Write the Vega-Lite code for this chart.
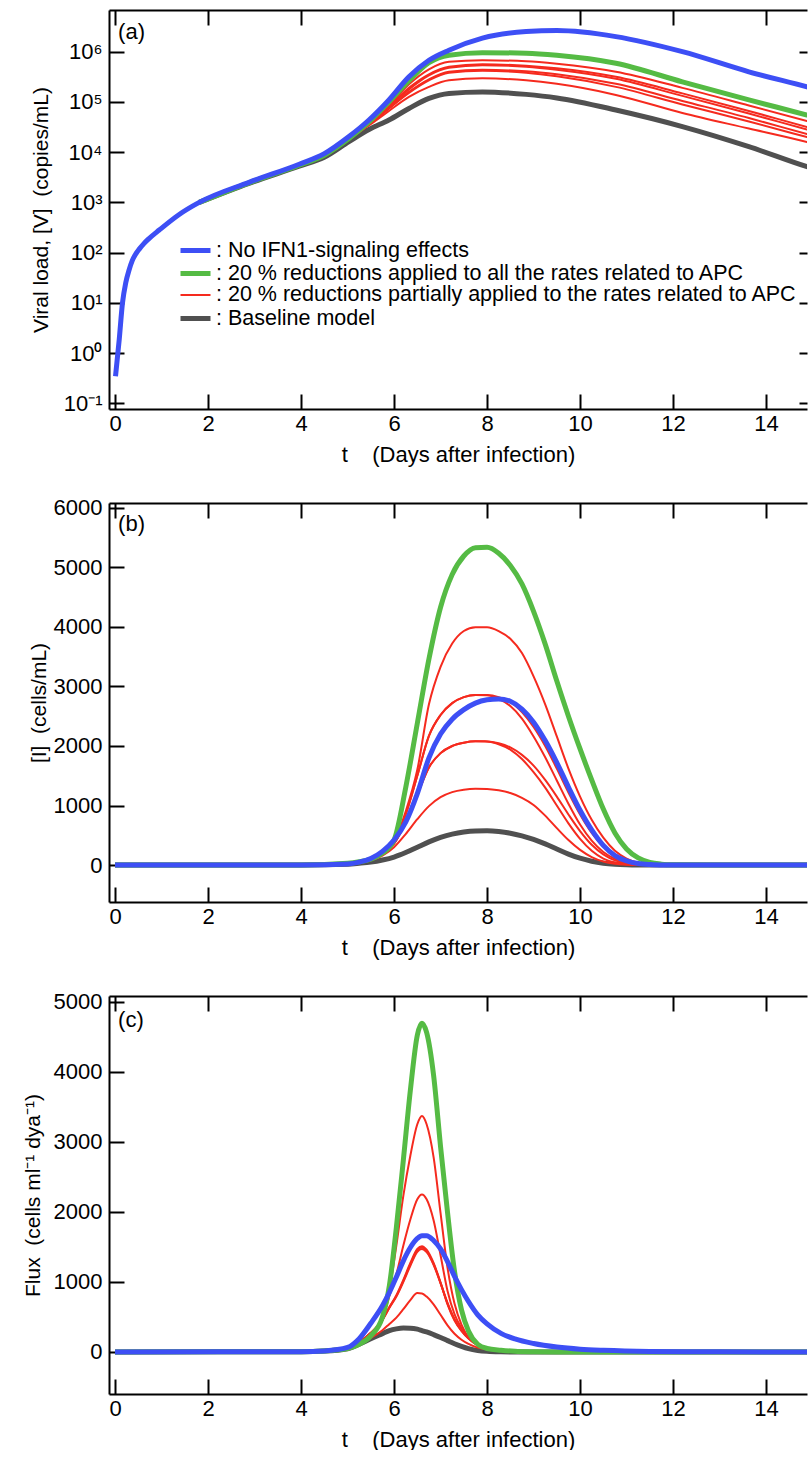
{
  "$schema": "https://vega.github.io/schema/vega-lite/v6.json",
  "background": "white",
  "padding": {"left": 22, "top": 9, "right": 0, "bottom": 0},
  "bounds": "flush",
  "spacing": 94,
  "resolve": {"legend": {"color": "independent", "strokeWidth": "independent"}},
  "config": {
    "font": "Liberation Sans",
    "view": {"stroke": null},
    "axis": {"grid": false, "domainColor": "#000", "domainWidth": 2, "tickColor": "#000", "tickWidth": 2, "labelColor": "#000", "labelFont": "Liberation Sans", "labelFontSize": 22, "titleFont": "Liberation Sans", "titleFontSize": 22, "titleFontWeight": "normal", "titleColor": "#000"},
    "axisLeft": {"titleFontSize": 21},
    "legend": {"orient": "none", "legendX": 74, "legendY": 228, "labelFont": "Liberation Sans", "labelFontSize": 21.5, "labelColor": "#000", "labelLimit": 1000, "symbolSize": 400, "symbolType": "M-1.5,0H1.5", "labelOffset": 8, "rowPadding": -1, "padding": 0}
  },
  "datasets": {
    "names": [
      {"s": "B", "grp": ": No IFN1-signaling effects"},
      {"s": "G", "grp": ": 20 % reductions applied to all the rates related to APC"},
      {"s": "R1", "grp": ": 20 % reductions partially applied to the rates related to APC"},
      {"s": "R2", "grp": ": 20 % reductions partially applied to the rates related to APC"},
      {"s": "R3", "grp": ": 20 % reductions partially applied to the rates related to APC"},
      {"s": "R4", "grp": ": 20 % reductions partially applied to the rates related to APC"},
      {"s": "R5", "grp": ": 20 % reductions partially applied to the rates related to APC"},
      {"s": "R6", "grp": ": 20 % reductions partially applied to the rates related to APC"},
      {"s": "K", "grp": ": Baseline model"}
    ],
    "A": [
      {"t": 0.01, "B": 0.3467},
      {"t": 0.09, "B": 1.862},
      {"t": 0.16, "B": 10},
      {"t": 0.23, "B": 25.12},
      {"t": 0.3, "B": 44.67},
      {"t": 0.37, "B": 69.18},
      {"t": 0.45, "B": 95.5},
      {"t": 0.52, "B": 117.5},
      {"t": 0.62, "B": 151.4},
      {"t": 0.73, "B": 190.5},
      {"t": 0.95, "B": 281.8},
      {"t": 1.38, "B": 575.4},
      {"t": 1.81, "B": 1000, "K": 1000, "G": 1000, "R1": 1000, "R2": 1000, "R3": 1000, "R4": 1000, "R5": 1000, "R6": 1000},
      {"t": 2.88, "B": 2512, "K": 2399, "G": 2455, "R1": 2455, "R2": 2455, "R3": 2455, "R4": 2455, "R5": 2455, "R6": 2455},
      {"t": 3.96, "B": 5754, "K": 5248, "G": 5495, "R1": 5370, "R2": 5370, "R3": 5370, "R4": 5370, "R5": 5370, "R6": 5370},
      {"t": 4.5, "B": 9333, "K": 7943, "G": 8710, "R1": 8318, "R2": 8318, "R3": 8318, "R4": 8318, "R5": 8318, "R6": 8318},
      {"t": 5.03, "B": 20420, "K": 16220, "G": 18620, "R1": 18200, "R2": 18200, "R3": 18200, "R4": 18200, "R5": 18200, "R6": 18200},
      {"t": 5.46, "B": 43650, "K": 28180, "G": 39810, "R1": 37150, "R2": 36310, "R3": 36310, "R4": 35480, "R5": 35480, "R6": 33880},
      {"t": 5.89, "B": 109600, "K": 43650, "G": 100000, "R1": 83180, "R2": 79430, "R3": 79430, "R4": 74130, "R5": 74130, "R6": 66070},
      {"t": 6.32, "B": 316200, "K": 74130, "G": 263000, "R1": 223900, "R2": 190500, "R3": 177800, "R4": 158500, "R5": 151400, "R6": 125900},
      {"t": 6.75, "B": 676100, "K": 117500, "G": 602600, "R1": 446700, "R2": 354800, "R3": 338800, "R4": 281800, "R5": 269200, "R6": 199500},
      {"t": 7.18, "B": 1072000, "K": 147900, "G": 851100, "R1": 631000, "R2": 501200, "R3": 478600, "R4": 398100, "R5": 380200, "R6": 269200},
      {"t": 7.9, "B": 1862000, "K": 158500, "G": 955000, "R1": 676100, "R2": 562300, "R3": 537000, "R4": 436500, "R5": 416900, "R6": 295100},
      {"t": 8.84, "B": 2512000, "K": 141300, "G": 933300, "R1": 645700, "R2": 524800, "R3": 501200, "R4": 407400, "R5": 380200, "R6": 269200},
      {"t": 9.5, "B": 2630000, "K": 120200, "G": 851100, "R1": 575400, "R2": 467700, "R3": 436500, "R4": 354800, "R5": 323600, "R6": 229100},
      {"t": 10.77, "B": 1995000, "K": 69180, "G": 588800, "R1": 398100, "R2": 316200, "R3": 288400, "R4": 229100, "R5": 199500, "R6": 138000},
      {"t": 12.2, "B": 1000000, "K": 32360, "G": 251200, "R1": 190500, "R2": 147900, "R3": 131800, "R4": 104700, "R5": 89130, "R6": 60260},
      {"t": 13.63, "B": 398100, "K": 12880, "G": 109600, "R1": 85110, "R2": 66070, "R3": 58880, "R4": 47860, "R5": 40740, "R6": 29510},
      {"t": 14.88, "B": 199500, "K": 5129, "G": 54950, "R1": 41690, "R2": 31620, "R3": 28180, "R4": 22910, "R5": 19950, "R6": 15850},
      {"t": 15.2, "B": 166000, "K": 4169, "G": 45710, "R1": 34670, "R2": 26300, "R3": 23440, "R4": 19050, "R5": 16600, "R6": 13180}
    ],
    "Bd": [
      {"t": 0, "B": 0, "K": 0, "G": 0, "R1": 0, "R2": 0, "R3": 0, "R4": 0, "R5": 0, "R6": 0},
      {"t": 4, "B": 3, "K": 2, "G": 3, "R1": 3, "R2": 3, "R3": 3, "R4": 3, "R5": 3, "R6": 3},
      {"t": 5.0, "B": 20, "K": 15, "G": 30, "R1": 30, "R2": 30, "R3": 30, "R4": 28, "R5": 28, "R6": 25},
      {"t": 5.25, "B": 50, "K": 30, "G": 55, "R1": 55, "R2": 55, "R3": 55, "R4": 52, "R5": 52, "R6": 45},
      {"t": 5.5, "B": 110, "K": 50, "G": 100, "R1": 90, "R2": 90, "R3": 90, "R4": 85, "R5": 85, "R6": 80},
      {"t": 5.75, "B": 230, "K": 85, "G": 200, "R1": 190, "R2": 190, "R3": 190, "R4": 180, "R5": 180, "R6": 160},
      {"t": 6.0, "B": 420, "K": 135, "G": 420, "R1": 400, "R2": 380, "R3": 380, "R4": 360, "R5": 360, "R6": 300},
      {"t": 6.25, "B": 720, "K": 210, "G": 1300, "R1": 900, "R2": 850, "R3": 850, "R4": 720, "R5": 720, "R6": 520},
      {"t": 6.5, "B": 1200, "K": 300, "G": 2380, "R1": 1600, "R2": 1500, "R3": 1500, "R4": 1180, "R5": 1180, "R6": 770},
      {"t": 6.75, "B": 1800, "K": 390, "G": 3460, "R1": 2700, "R2": 2170, "R3": 2170, "R4": 1640, "R5": 1640, "R6": 990},
      {"t": 7.0, "B": 2200, "K": 465, "G": 4330, "R1": 3330, "R2": 2520, "R3": 2520, "R4": 1880, "R5": 1880, "R6": 1140},
      {"t": 7.25, "B": 2450, "K": 520, "G": 4880, "R1": 3720, "R2": 2720, "R3": 2720, "R4": 2000, "R5": 2000, "R6": 1225},
      {"t": 7.5, "B": 2610, "K": 555, "G": 5190, "R1": 3930, "R2": 2820, "R3": 2820, "R4": 2055, "R5": 2055, "R6": 1265},
      {"t": 7.75, "B": 2720, "K": 572, "G": 5330, "R1": 3995, "R2": 2858, "R3": 2858, "R4": 2078, "R5": 2078, "R6": 1280},
      {"t": 8.0, "B": 2775, "K": 575, "G": 5335, "R1": 3995, "R2": 2850, "R3": 2855, "R4": 2075, "R5": 2077, "R6": 1278},
      {"t": 8.25, "B": 2790, "K": 563, "G": 5235, "R1": 3930, "R2": 2790, "R3": 2820, "R4": 2030, "R5": 2045, "R6": 1255},
      {"t": 8.5, "B": 2750, "K": 535, "G": 5030, "R1": 3800, "R2": 2670, "R3": 2740, "R4": 1940, "R5": 1975, "R6": 1210},
      {"t": 8.75, "B": 2620, "K": 490, "G": 4720, "R1": 3560, "R2": 2460, "R3": 2570, "R4": 1780, "R5": 1850, "R6": 1130},
      {"t": 9.0, "B": 2400, "K": 430, "G": 4260, "R1": 3170, "R2": 2160, "R3": 2320, "R4": 1560, "R5": 1670, "R6": 1010},
      {"t": 9.25, "B": 2090, "K": 355, "G": 3710, "R1": 2700, "R2": 1810, "R3": 2000, "R4": 1300, "R5": 1430, "R6": 830},
      {"t": 9.5, "B": 1720, "K": 270, "G": 3090, "R1": 2160, "R2": 1420, "R3": 1620, "R4": 1000, "R5": 1150, "R6": 620},
      {"t": 9.75, "B": 1310, "K": 185, "G": 2500, "R1": 1620, "R2": 1030, "R3": 1220, "R4": 700, "R5": 850, "R6": 420},
      {"t": 10.0, "B": 920, "K": 115, "G": 1950, "R1": 1150, "R2": 680, "R3": 850, "R4": 440, "R5": 570, "R6": 255},
      {"t": 10.25, "B": 590, "K": 65, "G": 1430, "R1": 760, "R2": 410, "R3": 540, "R4": 240, "R5": 340, "R6": 135},
      {"t": 10.5, "B": 330, "K": 32, "G": 940, "R1": 460, "R2": 220, "R3": 310, "R4": 110, "R5": 180, "R6": 60},
      {"t": 10.75, "B": 160, "K": 14, "G": 540, "R1": 240, "R2": 105, "R3": 155, "R4": 42, "R5": 80, "R6": 22},
      {"t": 11.0, "B": 70, "K": 5, "G": 270, "R1": 110, "R2": 45, "R3": 70, "R4": 14, "R5": 30, "R6": 6},
      {"t": 11.25, "B": 25, "K": 1, "G": 120, "R1": 40, "R2": 15, "R3": 25, "R4": 4, "R5": 10, "R6": 0},
      {"t": 11.5, "B": 8, "K": 0, "G": 45, "R1": 12, "R2": 5, "R3": 8, "R4": 0, "R5": 3, "R6": 0},
      {"t": 11.75, "B": 2, "K": 0, "G": 15, "R1": 3, "R2": 1, "R3": 2, "R4": 0, "R5": 0, "R6": 0},
      {"t": 12.0, "B": 0, "K": 0, "G": 5, "R1": 0, "R2": 0, "R3": 0, "R4": 0, "R5": 0, "R6": 0},
      {"t": 13, "B": 0, "K": 0, "G": 0, "R1": 0, "R2": 0, "R3": 0, "R4": 0, "R5": 0, "R6": 0},
      {"t": 15.2, "B": 0, "K": 0, "G": 0, "R1": 0, "R2": 0, "R3": 0, "R4": 0, "R5": 0, "R6": 0}
    ],
    "C": [
      {"t": 0, "B": 0, "K": 0, "G": 0, "R1": 0, "R2": 0, "R3": 0, "R4": 0, "R5": 0, "R6": 0},
      {"t": 4, "B": 4, "K": 4, "G": 4, "R1": 4, "R2": 4, "R3": 4, "R4": 4, "R5": 4, "R6": 4},
      {"t": 4.5, "B": 15, "K": 12, "G": 15, "R1": 15, "R2": 15, "R3": 15, "R4": 15, "R5": 15, "R6": 15},
      {"t": 5.0, "B": 65, "K": 45, "G": 50, "R1": 55, "R2": 55, "R3": 55, "R4": 55, "R5": 55, "R6": 50},
      {"t": 5.25, "B": 190, "K": 110, "G": 110, "R1": 140, "R2": 140, "R3": 140, "R4": 140, "R5": 140, "R6": 120},
      {"t": 5.5, "B": 410, "K": 190, "G": 230, "R1": 270, "R2": 270, "R3": 270, "R4": 270, "R5": 270, "R6": 200},
      {"t": 5.75, "B": 660, "K": 262, "G": 500, "R1": 470, "R2": 470, "R3": 460, "R4": 460, "R5": 455, "R6": 310},
      {"t": 5.9, "B": 850, "K": 305, "G": 950, "R1": 880, "R2": 800, "R3": 640, "R4": 635, "R5": 630, "R6": 400},
      {"t": 6.05, "B": 1070, "K": 330, "G": 1780, "R1": 1520, "R2": 1110, "R3": 810, "R4": 800, "R5": 790, "R6": 490},
      {"t": 6.2, "B": 1300, "K": 342, "G": 2740, "R1": 2230, "R2": 1520, "R3": 1030, "R4": 1015, "R5": 1000, "R6": 610},
      {"t": 6.35, "B": 1490, "K": 340, "G": 3730, "R1": 2800, "R2": 1890, "R3": 1270, "R4": 1250, "R5": 1230, "R6": 740},
      {"t": 6.5, "B": 1620, "K": 325, "G": 4520, "R1": 3250, "R2": 2180, "R3": 1470, "R4": 1450, "R5": 1430, "R6": 840},
      {"t": 6.6, "B": 1660, "K": 305, "G": 4690, "R1": 3367, "R2": 2248, "R3": 1510, "R4": 1490, "R5": 1470, "R6": 835},
      {"t": 6.7, "B": 1660, "K": 285, "G": 4560, "R1": 3250, "R2": 2180, "R3": 1460, "R4": 1440, "R5": 1425, "R6": 790},
      {"t": 6.85, "B": 1590, "K": 248, "G": 3950, "R1": 2780, "R2": 1880, "R3": 1270, "R4": 1255, "R5": 1245, "R6": 680},
      {"t": 7.0, "B": 1470, "K": 207, "G": 2930, "R1": 1980, "R2": 1380, "R3": 990, "R4": 985, "R5": 980, "R6": 530},
      {"t": 7.15, "B": 1290, "K": 162, "G": 1990, "R1": 1200, "R2": 870, "R3": 680, "R4": 690, "R5": 700, "R6": 380},
      {"t": 7.3, "B": 1080, "K": 118, "G": 1150, "R1": 690, "R2": 540, "R3": 450, "R4": 460, "R5": 470, "R6": 260},
      {"t": 7.45, "B": 890, "K": 80, "G": 600, "R1": 390, "R2": 340, "R3": 300, "R4": 305, "R5": 310, "R6": 175},
      {"t": 7.6, "B": 720, "K": 48, "G": 300, "R1": 210, "R2": 205, "R3": 190, "R4": 195, "R5": 200, "R6": 115},
      {"t": 7.8, "B": 530, "K": 22, "G": 110, "R1": 100, "R2": 100, "R3": 95, "R4": 98, "R5": 100, "R6": 62},
      {"t": 8.0, "B": 400, "K": 9, "G": 50, "R1": 55, "R2": 55, "R3": 52, "R4": 53, "R5": 55, "R6": 38},
      {"t": 8.3, "B": 265, "K": 2, "G": 25, "R1": 22, "R2": 22, "R3": 22, "R4": 22, "R5": 23, "R6": 15},
      {"t": 8.6, "B": 185, "K": 0, "G": 10, "R1": 10, "R2": 10, "R3": 10, "R4": 10, "R5": 10, "R6": 5},
      {"t": 9.0, "B": 120, "K": 0, "G": 3, "R1": 3, "R2": 3, "R3": 3, "R4": 3, "R5": 3, "R6": 0},
      {"t": 9.5, "B": 70, "K": 0, "G": 0, "R1": 0, "R2": 0, "R3": 0, "R4": 0, "R5": 0, "R6": 0},
      {"t": 10.0, "B": 40, "K": 0, "G": 0, "R1": 0, "R2": 0, "R3": 0, "R4": 0, "R5": 0, "R6": 0},
      {"t": 10.5, "B": 24, "K": 0, "G": 0, "R1": 0, "R2": 0, "R3": 0, "R4": 0, "R5": 0, "R6": 0},
      {"t": 11.5, "B": 8, "K": 0, "G": 0, "R1": 0, "R2": 0, "R3": 0, "R4": 0, "R5": 0, "R6": 0},
      {"t": 13, "B": 2, "K": 0, "G": 0, "R1": 0, "R2": 0, "R3": 0, "R4": 0, "R5": 0, "R6": 0},
      {"t": 15.2, "B": 0, "K": 0, "G": 0, "R1": 0, "R2": 0, "R3": 0, "R4": 0, "R5": 0, "R6": 0}
    ]
  },
  "vconcat": [
    {
      "width": 698, "height": 399,
      "data": {"name": "A"},
      "transform": [
        {"fold": ["K", "G", "R1", "R2", "R3", "R4", "R5", "R6", "B"], "as": ["s", "v"]},
        {"lookup": "s", "from": {"data": {"name": "names"}, "key": "s", "fields": ["grp"]}}
      ],
      "resolve": {"axis": {"x": "independent", "y": "independent"}},
      "layer": [
        {
          "transform": [{"filter": {"field": "s", "equal": "K"}}],
          "mark": {"type": "line", "interpolate": "monotone", "clip": true},
          "encoding": {
            "x": {"field": "t", "type": "quantitative", "scale": {"domain": [-0.13, 14.88]}, "axis": {"orient": "bottom", "values": [0, 2, 4, 6, 8, 10, 12, 14], "tickSize": -15, "labelPadding": 19, "title": "t\u00a0\u00a0\u00a0\u00a0(Days after infection)", "titlePadding": 10}},
            "y": {"field": "v", "type": "quantitative", "scale": {"type": "log", "domain": [0.0771, 6761000]}, "axis": {"orient": "left", "values": [0.1, 1, 10, 100, 1000, 10000, 100000, 1000000], "tickSize": -15, "labelPadding": 22, "title": "Viral load, [V]\u00a0\u00a0(copies/mL)", "titlePadding": 12, "labelExpr": "datum.value < 0.5 ? '10⁻¹' : datum.value < 5 ? '10⁰' : datum.value < 50 ? '10¹' : datum.value < 500 ? '10²' : datum.value < 5000 ? '10³' : datum.value < 50000 ? '10⁴' : datum.value < 500000 ? '10⁵' : '10⁶'"}},
            "color": {"field": "grp", "type": "nominal", "scale": {"domain": [": No IFN1-signaling effects", ": 20 % reductions applied to all the rates related to APC", ": 20 % reductions partially applied to the rates related to APC", ": Baseline model"], "range": ["#3d4ff5", "#55bb44", "#f52a1e", "#505050"]}, "legend": {"title": null}},
            "strokeWidth": {"field": "grp", "type": "nominal", "scale": {"type": "ordinal", "domain": [": No IFN1-signaling effects", ": 20 % reductions applied to all the rates related to APC", ": 20 % reductions partially applied to the rates related to APC", ": Baseline model"], "range": [5, 5, 2, 5]}, "legend": {"title": null}},
            "detail": {"field": "s"}
          }
        },
        {
          "transform": [{"filter": {"field": "s", "oneOf": ["R1", "R2", "R3", "R4", "R5", "R6"]}}],
          "mark": {"type": "line", "interpolate": "monotone", "clip": true},
          "encoding": {
            "x": {"field": "t", "type": "quantitative", "scale": {"domain": [-0.13, 14.88]}, "axis": null},
            "y": {"field": "v", "type": "quantitative", "scale": {"type": "log", "domain": [0.0771, 6761000]}, "axis": null},
            "color": {"field": "grp", "type": "nominal", "scale": {"domain": [": No IFN1-signaling effects", ": 20 % reductions applied to all the rates related to APC", ": 20 % reductions partially applied to the rates related to APC", ": Baseline model"], "range": ["#3d4ff5", "#55bb44", "#f52a1e", "#505050"]}, "legend": {"title": null}},
            "strokeWidth": {"field": "grp", "type": "nominal", "scale": {"type": "ordinal", "domain": [": No IFN1-signaling effects", ": 20 % reductions applied to all the rates related to APC", ": 20 % reductions partially applied to the rates related to APC", ": Baseline model"], "range": [5, 5, 2, 5]}, "legend": {"title": null}},
            "detail": {"field": "s"}
          }
        },
        {
          "transform": [{"filter": {"field": "s", "equal": "G"}}],
          "mark": {"type": "line", "interpolate": "monotone", "clip": true},
          "encoding": {
            "x": {"field": "t", "type": "quantitative", "scale": {"domain": [-0.13, 14.88]}, "axis": null},
            "y": {"field": "v", "type": "quantitative", "scale": {"type": "log", "domain": [0.0771, 6761000]}, "axis": null},
            "color": {"field": "grp", "type": "nominal", "scale": {"domain": [": No IFN1-signaling effects", ": 20 % reductions applied to all the rates related to APC", ": 20 % reductions partially applied to the rates related to APC", ": Baseline model"], "range": ["#3d4ff5", "#55bb44", "#f52a1e", "#505050"]}, "legend": {"title": null}},
            "strokeWidth": {"field": "grp", "type": "nominal", "scale": {"type": "ordinal", "domain": [": No IFN1-signaling effects", ": 20 % reductions applied to all the rates related to APC", ": 20 % reductions partially applied to the rates related to APC", ": Baseline model"], "range": [5, 5, 2, 5]}, "legend": {"title": null}},
            "detail": {"field": "s"}
          }
        },
        {
          "transform": [{"filter": {"field": "s", "equal": "B"}}],
          "mark": {"type": "line", "interpolate": "monotone", "clip": true},
          "encoding": {
            "x": {"field": "t", "type": "quantitative", "scale": {"domain": [-0.13, 14.88]}, "axis": null},
            "y": {"field": "v", "type": "quantitative", "scale": {"type": "log", "domain": [0.0771, 6761000]}, "axis": null},
            "color": {"field": "grp", "type": "nominal", "scale": {"domain": [": No IFN1-signaling effects", ": 20 % reductions applied to all the rates related to APC", ": 20 % reductions partially applied to the rates related to APC", ": Baseline model"], "range": ["#3d4ff5", "#55bb44", "#f52a1e", "#505050"]}, "legend": {"title": null}},
            "strokeWidth": {"field": "grp", "type": "nominal", "scale": {"type": "ordinal", "domain": [": No IFN1-signaling effects", ": 20 % reductions applied to all the rates related to APC", ": 20 % reductions partially applied to the rates related to APC", ": Baseline model"], "range": [5, 5, 2, 5]}, "legend": {"title": null}},
            "detail": {"field": "s"}
          }
        },
        {
          "data": {"values": [{"lab": "(a)"}]},
          "mark": {"type": "text", "align": "left", "baseline": "middle", "fontSize": 22, "font": "Liberation Sans", "color": "#000"},
          "encoding": {
            "text": {"field": "lab"},
            "x": {"datum": 0.065, "type": "quantitative", "scale": {"domain": [-0.13, 14.88]}, "axis": {"orient": "top", "values": [0, 2, 4, 6, 8, 10, 12, 14], "labels": false, "tickSize": -15, "title": null}},
            "y": {"datum": 2500000, "type": "quantitative", "scale": {"type": "log", "domain": [0.0771, 6761000]}, "axis": {"orient": "right", "values": [0.1, 1, 10, 100, 1000, 10000, 100000, 1000000], "labels": false, "domain": false, "tickSize": -8, "title": null}}
          }
        }
      ]
    },
    {
      "width": 698, "height": 399,
      "data": {"name": "Bd"},
      "transform": [
        {"fold": ["K", "G", "R1", "R2", "R3", "R4", "R5", "R6", "B"], "as": ["s", "v"]},
        {"lookup": "s", "from": {"data": {"name": "names"}, "key": "s", "fields": ["grp"]}}
      ],
      "resolve": {"axis": {"x": "independent", "y": "independent"}},
      "layer": [
        {
          "transform": [{"filter": {"field": "s", "equal": "K"}}],
          "mark": {"type": "line", "interpolate": "monotone", "clip": true},
          "encoding": {
            "x": {"field": "t", "type": "quantitative", "scale": {"domain": [-0.13, 14.88]}, "axis": {"orient": "bottom", "values": [0, 2, 4, 6, 8, 10, 12, 14], "tickSize": -15, "labelPadding": 19, "title": "t\u00a0\u00a0\u00a0\u00a0(Days after infection)", "titlePadding": 10}},
            "y": {"field": "v", "type": "quantitative", "scale": {"domain": [-620, 6080], "nice": false, "zero": false}, "axis": {"orient": "left", "values": [0, 1000, 2000, 3000, 4000, 5000, 6000], "tickSize": -15, "labelPadding": 22, "title": "[I]\u00a0\u00a0(cells/mL)", "titlePadding": 4, "format": "d"}},
            "color": {"field": "grp", "type": "nominal", "scale": {"domain": [": No IFN1-signaling effects", ": 20 % reductions applied to all the rates related to APC", ": 20 % reductions partially applied to the rates related to APC", ": Baseline model"], "range": ["#3d4ff5", "#55bb44", "#f52a1e", "#505050"]}, "legend": null},
            "strokeWidth": {"field": "grp", "type": "nominal", "scale": {"type": "ordinal", "domain": [": No IFN1-signaling effects", ": 20 % reductions applied to all the rates related to APC", ": 20 % reductions partially applied to the rates related to APC", ": Baseline model"], "range": [5, 5, 2, 5]}, "legend": null},
            "detail": {"field": "s"}
          }
        },
        {
          "transform": [{"filter": {"field": "s", "oneOf": ["R1", "R2", "R3", "R4", "R5", "R6"]}}],
          "mark": {"type": "line", "interpolate": "monotone", "clip": true},
          "encoding": {
            "x": {"field": "t", "type": "quantitative", "scale": {"domain": [-0.13, 14.88]}, "axis": null},
            "y": {"field": "v", "type": "quantitative", "scale": {"domain": [-620, 6080], "nice": false, "zero": false}, "axis": null},
            "color": {"field": "grp", "type": "nominal", "scale": {"domain": [": No IFN1-signaling effects", ": 20 % reductions applied to all the rates related to APC", ": 20 % reductions partially applied to the rates related to APC", ": Baseline model"], "range": ["#3d4ff5", "#55bb44", "#f52a1e", "#505050"]}, "legend": null},
            "strokeWidth": {"field": "grp", "type": "nominal", "scale": {"type": "ordinal", "domain": [": No IFN1-signaling effects", ": 20 % reductions applied to all the rates related to APC", ": 20 % reductions partially applied to the rates related to APC", ": Baseline model"], "range": [5, 5, 2, 5]}, "legend": null},
            "detail": {"field": "s"}
          }
        },
        {
          "transform": [{"filter": {"field": "s", "equal": "G"}}],
          "mark": {"type": "line", "interpolate": "monotone", "clip": true},
          "encoding": {
            "x": {"field": "t", "type": "quantitative", "scale": {"domain": [-0.13, 14.88]}, "axis": null},
            "y": {"field": "v", "type": "quantitative", "scale": {"domain": [-620, 6080], "nice": false, "zero": false}, "axis": null},
            "color": {"field": "grp", "type": "nominal", "scale": {"domain": [": No IFN1-signaling effects", ": 20 % reductions applied to all the rates related to APC", ": 20 % reductions partially applied to the rates related to APC", ": Baseline model"], "range": ["#3d4ff5", "#55bb44", "#f52a1e", "#505050"]}, "legend": null},
            "strokeWidth": {"field": "grp", "type": "nominal", "scale": {"type": "ordinal", "domain": [": No IFN1-signaling effects", ": 20 % reductions applied to all the rates related to APC", ": 20 % reductions partially applied to the rates related to APC", ": Baseline model"], "range": [5, 5, 2, 5]}, "legend": null},
            "detail": {"field": "s"}
          }
        },
        {
          "transform": [{"filter": {"field": "s", "equal": "B"}}],
          "mark": {"type": "line", "interpolate": "monotone", "clip": true},
          "encoding": {
            "x": {"field": "t", "type": "quantitative", "scale": {"domain": [-0.13, 14.88]}, "axis": null},
            "y": {"field": "v", "type": "quantitative", "scale": {"domain": [-620, 6080], "nice": false, "zero": false}, "axis": null},
            "color": {"field": "grp", "type": "nominal", "scale": {"domain": [": No IFN1-signaling effects", ": 20 % reductions applied to all the rates related to APC", ": 20 % reductions partially applied to the rates related to APC", ": Baseline model"], "range": ["#3d4ff5", "#55bb44", "#f52a1e", "#505050"]}, "legend": null},
            "strokeWidth": {"field": "grp", "type": "nominal", "scale": {"type": "ordinal", "domain": [": No IFN1-signaling effects", ": 20 % reductions applied to all the rates related to APC", ": 20 % reductions partially applied to the rates related to APC", ": Baseline model"], "range": [5, 5, 2, 5]}, "legend": null},
            "detail": {"field": "s"}
          }
        },
        {
          "data": {"values": [{"lab": "(b)"}]},
          "mark": {"type": "text", "align": "left", "baseline": "middle", "fontSize": 22, "font": "Liberation Sans", "color": "#000"},
          "encoding": {
            "text": {"field": "lab"},
            "x": {"datum": 0.065, "type": "quantitative", "scale": {"domain": [-0.13, 14.88]}, "axis": {"orient": "top", "values": [0, 2, 4, 6, 8, 10, 12, 14], "labels": false, "tickSize": -15, "title": null}},
            "y": {"datum": 5726, "type": "quantitative", "scale": {"domain": [-620, 6080], "nice": false, "zero": false}, "axis": null}
          }
        }
      ]
    },
    {
      "width": 698, "height": 398,
      "data": {"name": "C"},
      "transform": [
        {"fold": ["K", "G", "R1", "R2", "R3", "R4", "R5", "R6", "B"], "as": ["s", "v"]},
        {"lookup": "s", "from": {"data": {"name": "names"}, "key": "s", "fields": ["grp"]}}
      ],
      "resolve": {"axis": {"x": "independent", "y": "independent"}},
      "layer": [
        {
          "transform": [{"filter": {"field": "s", "equal": "K"}}],
          "mark": {"type": "line", "interpolate": "monotone", "clip": true},
          "encoding": {
            "x": {"field": "t", "type": "quantitative", "scale": {"domain": [-0.13, 14.88]}, "axis": {"orient": "bottom", "values": [0, 2, 4, 6, 8, 10, 12, 14], "tickSize": -15, "labelPadding": 19, "title": "t\u00a0\u00a0\u00a0\u00a0(Days after infection)", "titlePadding": 10}},
            "y": {"field": "v", "type": "quantitative", "scale": {"domain": [-600, 5080], "nice": false, "zero": false}, "axis": {"orient": "left", "values": [0, 1000, 2000, 3000, 4000, 5000], "tickSize": -15, "labelPadding": 22, "title": "Flux\u00a0\u00a0(cells ml⁻¹ dya⁻¹)", "titlePadding": 10, "format": "d"}},
            "color": {"field": "grp", "type": "nominal", "scale": {"domain": [": No IFN1-signaling effects", ": 20 % reductions applied to all the rates related to APC", ": 20 % reductions partially applied to the rates related to APC", ": Baseline model"], "range": ["#3d4ff5", "#55bb44", "#f52a1e", "#505050"]}, "legend": null},
            "strokeWidth": {"field": "grp", "type": "nominal", "scale": {"type": "ordinal", "domain": [": No IFN1-signaling effects", ": 20 % reductions applied to all the rates related to APC", ": 20 % reductions partially applied to the rates related to APC", ": Baseline model"], "range": [5, 5, 2, 5]}, "legend": null},
            "detail": {"field": "s"}
          }
        },
        {
          "transform": [{"filter": {"field": "s", "oneOf": ["R1", "R2", "R3", "R4", "R5", "R6"]}}],
          "mark": {"type": "line", "interpolate": "monotone", "clip": true},
          "encoding": {
            "x": {"field": "t", "type": "quantitative", "scale": {"domain": [-0.13, 14.88]}, "axis": null},
            "y": {"field": "v", "type": "quantitative", "scale": {"domain": [-600, 5080], "nice": false, "zero": false}, "axis": null},
            "color": {"field": "grp", "type": "nominal", "scale": {"domain": [": No IFN1-signaling effects", ": 20 % reductions applied to all the rates related to APC", ": 20 % reductions partially applied to the rates related to APC", ": Baseline model"], "range": ["#3d4ff5", "#55bb44", "#f52a1e", "#505050"]}, "legend": null},
            "strokeWidth": {"field": "grp", "type": "nominal", "scale": {"type": "ordinal", "domain": [": No IFN1-signaling effects", ": 20 % reductions applied to all the rates related to APC", ": 20 % reductions partially applied to the rates related to APC", ": Baseline model"], "range": [5, 5, 2, 5]}, "legend": null},
            "detail": {"field": "s"}
          }
        },
        {
          "transform": [{"filter": {"field": "s", "equal": "G"}}],
          "mark": {"type": "line", "interpolate": "monotone", "clip": true},
          "encoding": {
            "x": {"field": "t", "type": "quantitative", "scale": {"domain": [-0.13, 14.88]}, "axis": null},
            "y": {"field": "v", "type": "quantitative", "scale": {"domain": [-600, 5080], "nice": false, "zero": false}, "axis": null},
            "color": {"field": "grp", "type": "nominal", "scale": {"domain": [": No IFN1-signaling effects", ": 20 % reductions applied to all the rates related to APC", ": 20 % reductions partially applied to the rates related to APC", ": Baseline model"], "range": ["#3d4ff5", "#55bb44", "#f52a1e", "#505050"]}, "legend": null},
            "strokeWidth": {"field": "grp", "type": "nominal", "scale": {"type": "ordinal", "domain": [": No IFN1-signaling effects", ": 20 % reductions applied to all the rates related to APC", ": 20 % reductions partially applied to the rates related to APC", ": Baseline model"], "range": [5, 5, 2, 5]}, "legend": null},
            "detail": {"field": "s"}
          }
        },
        {
          "transform": [{"filter": {"field": "s", "equal": "B"}}],
          "mark": {"type": "line", "interpolate": "monotone", "clip": true},
          "encoding": {
            "x": {"field": "t", "type": "quantitative", "scale": {"domain": [-0.13, 14.88]}, "axis": null},
            "y": {"field": "v", "type": "quantitative", "scale": {"domain": [-600, 5080], "nice": false, "zero": false}, "axis": null},
            "color": {"field": "grp", "type": "nominal", "scale": {"domain": [": No IFN1-signaling effects", ": 20 % reductions applied to all the rates related to APC", ": 20 % reductions partially applied to the rates related to APC", ": Baseline model"], "range": ["#3d4ff5", "#55bb44", "#f52a1e", "#505050"]}, "legend": null},
            "strokeWidth": {"field": "grp", "type": "nominal", "scale": {"type": "ordinal", "domain": [": No IFN1-signaling effects", ": 20 % reductions applied to all the rates related to APC", ": 20 % reductions partially applied to the rates related to APC", ": Baseline model"], "range": [5, 5, 2, 5]}, "legend": null},
            "detail": {"field": "s"}
          }
        },
        {
          "data": {"values": [{"lab": "(c)"}]},
          "mark": {"type": "text", "align": "left", "baseline": "middle", "fontSize": 22, "font": "Liberation Sans", "color": "#000"},
          "encoding": {
            "text": {"field": "lab"},
            "x": {"datum": 0.065, "type": "quantitative", "scale": {"domain": [-0.13, 14.88]}, "axis": {"orient": "top", "values": [0, 2, 4, 6, 8, 10, 12, 14], "labels": false, "tickSize": -15, "title": null}},
            "y": {"datum": 4738, "type": "quantitative", "scale": {"domain": [-600, 5080], "nice": false, "zero": false}, "axis": null}
          }
        }
      ]
    }
  ]
}
